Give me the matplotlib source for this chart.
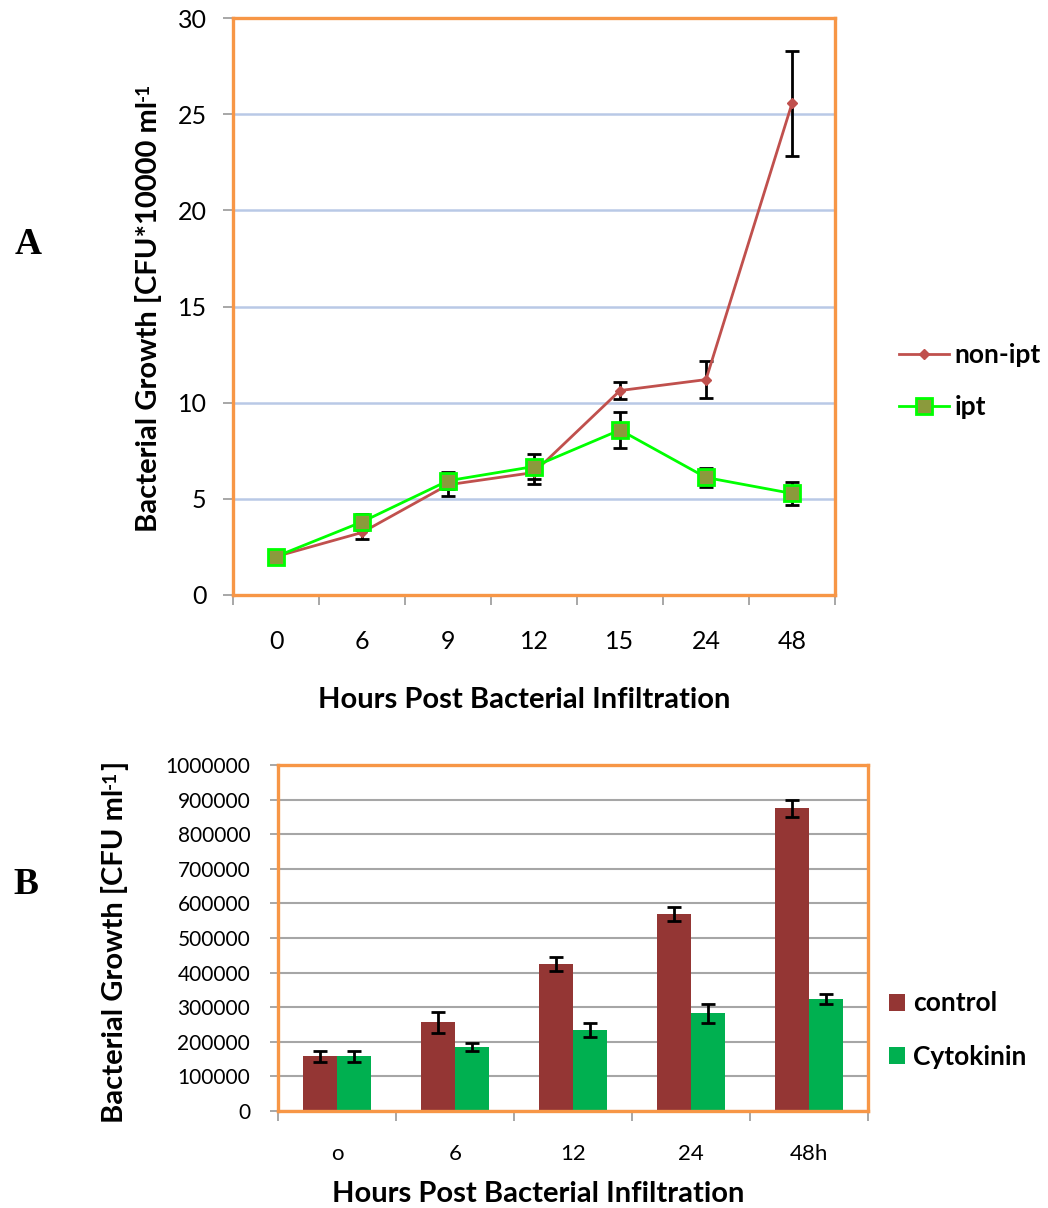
import matplotlib
matplotlib.use("Agg")
import matplotlib.pyplot as plt
import numpy as np
from matplotlib.ticker import FixedLocator, NullFormatter, StrMethodFormatter

plt.rcParams['font.family'] = ['Lato', 'DejaVu Sans']

# ---- Panel A: time course (CFU * 10000 / ml) ----
hours_a = ["0", "6", "9", "12", "15", "24", "48"]
non_ipt = [2.0, 3.25, 5.73, 6.37, 10.63, 11.2, 25.56]
non_ipt_err = [0.1, 0.33, 0.57, 0.6, 0.42, 0.95, 2.75]
ipt = [2.0, 3.8, 5.94, 6.68, 8.58, 6.11, 5.28]
ipt_err = [0.1, 0.4, 0.43, 0.65, 0.96, 0.48, 0.6]

# ---- Panel B: bar chart (CFU / ml) ----
hours_b = ["o", "6", "12", "24", "48h"]
control = [158500, 256000, 424000, 569000, 875000]
control_err = [16000, 30000, 20000, 21000, 24000]
cytokinin = [158500, 184500, 235000, 282000, 324500]
cytokinin_err = [16000, 12500, 20000, 27000, 14500]

ORANGE = '#f79646'
TICK_GRAY = '#a0a0a0'
LABEL_SIZE = 21
LEGEND_SIZE = 19

W, H = 1048, 1208
fig = plt.figure(figsize=(W / 100, H / 100), dpi=100)


def fx(px):
    return px / W


def fy(py):
    return 1 - py / H


def style_frame(ax):
    for s in ax.spines.values():
        s.set_color(ORANGE)
        s.set_linewidth(2.4)


def vertical_label(ax, x_px, start_px, main, sup, tail=None):
    """Rotated bold label with a superscript and an optional trailing part."""
    t = fig.text(fx(x_px), fy(start_px), main, rotation=90, ha='center', va='bottom',
                 fontsize=LABEL_SIZE, fontweight='bold')
    s = ax.annotate(sup, xy=(0.0, 1.0), xycoords=t, rotation=90, ha='left', va='bottom',
                    fontsize=LABEL_SIZE * 0.65, fontweight='bold', annotation_clip=False)
    if tail:
        ax.annotate(tail, xy=(0.0, 1.0), xycoords=(t, s), rotation=90, ha='left',
                    va='bottom', fontsize=LABEL_SIZE, fontweight='bold',
                    annotation_clip=False)


# ================= Panel A =================
ax1 = fig.add_axes([fx(233), fy(595), fx(835) - fx(233), fy(18) - fy(595)])
xa = np.arange(len(hours_a))
ax1.set_xlim(-0.5, len(hours_a) - 0.5)
ax1.set_ylim(0, 30)
ax1.set_yticks(np.arange(0, 31, 5))
ax1.yaxis.grid(True, color='#b9c9e6', linewidth=1.8)
ax1.set_axisbelow(True)
ax1.set_xticks(xa)
ax1.set_xticklabels(hours_a)
ax1.xaxis.set_minor_locator(FixedLocator(np.arange(-0.5, len(hours_a), 1.0)))
ax1.xaxis.set_minor_formatter(NullFormatter())
ax1.tick_params(axis='x', which='major', length=0, pad=25, labelsize=18)
ax1.tick_params(axis='x', which='minor', length=7, width=1.3, color=TICK_GRAY)
ax1.tick_params(axis='y', which='major', length=7, width=1.3, color=TICK_GRAY,
                labelsize=18, pad=12)
style_frame(ax1)

ax1.errorbar(xa, non_ipt, yerr=non_ipt_err, fmt='none', ecolor='black',
             elinewidth=2, capsize=5, capthick=2, zorder=3)
ax1.errorbar(xa, ipt, yerr=ipt_err, fmt='none', ecolor='black',
             elinewidth=2, capsize=5, capthick=2, zorder=3)
ax1.plot(xa, non_ipt, color='#c0504d', linewidth=2, marker='D', markersize=5,
         markerfacecolor='#c0504d', markeredgecolor='#c0504d', label='non-ipt', zorder=4)
ax1.plot(xa, ipt, color='#00ff00', linewidth=2, marker='s', markersize=11,
         markerfacecolor='#8b9a3c', markeredgecolor='#00ff00', markeredgewidth=2,
         label='ipt', zorder=5)

ax1.legend(loc='center left', bbox_to_anchor=(fx(886), fy(381)),
           bbox_transform=fig.transFigure, frameon=False, borderpad=0,
           handlelength=1.9, handletextpad=0.2, labelspacing=1.05,
           prop={'weight': 'bold', 'size': LEGEND_SIZE})

fig.text(fx(524), fy(700), 'Hours Post Bacterial Infiltration', ha='center', va='center',
         fontsize=LABEL_SIZE, fontweight='bold')
vertical_label(ax1, 148, 532, 'Bacterial Growth [CFU*10000 ml', '-1')
fig.text(fx(28), fy(245), 'A', ha='center', va='center', fontsize=27,
         fontweight='bold', family='Liberation Serif')

# ================= Panel B =================
ax2 = fig.add_axes([fx(278), fy(1111), fx(868) - fx(278), fy(765) - fy(1111)])
xb = np.arange(len(hours_b))
bw = 0.29
ax2.set_xlim(-0.5, len(hours_b) - 0.5)
ax2.set_ylim(0, 1000000)
ax2.set_yticks(np.arange(0, 1000001, 100000))
ax2.yaxis.set_major_formatter(StrMethodFormatter('{x:.0f}'))
ax2.yaxis.grid(True, color='#a6a6a6', linewidth=1.5)
ax2.set_axisbelow(True)
err_style = dict(ecolor='black', elinewidth=2, capsize=5, capthick=2)
ax2.bar(xb - bw / 2, control, width=bw, color='#943634', label='control',
        yerr=control_err, error_kw=err_style)
ax2.bar(xb + bw / 2, cytokinin, width=bw, color='#00b050', label='Cytokinin',
        yerr=cytokinin_err, error_kw=err_style)
ax2.set_xticks(xb)
ax2.set_xticklabels(hours_b)
ax2.xaxis.set_minor_locator(FixedLocator(np.arange(-0.5, len(hours_b), 1.0)))
ax2.xaxis.set_minor_formatter(NullFormatter())
ax2.tick_params(axis='x', which='major', length=0, pad=24, labelsize=16)
ax2.tick_params(axis='x', which='minor', length=7, width=1.3, color=TICK_GRAY)
ax2.tick_params(axis='y', which='major', length=6, width=1.3, color=TICK_GRAY,
                labelsize=15, pad=14)
style_frame(ax2)

ax2.legend(loc='center left', bbox_to_anchor=(fx(876), fy(1030)),
           bbox_transform=fig.transFigure, frameon=False, borderpad=0,
           handlelength=0.6, handleheight=0.6, handletextpad=0.3, labelspacing=1.1,
           prop={'weight': 'bold', 'size': LEGEND_SIZE})

fig.text(fx(538), fy(1194), 'Hours Post Bacterial Infiltration', ha='center', va='center',
         fontsize=LABEL_SIZE, fontweight='bold')
vertical_label(ax2, 115, 1123, 'Bacterial Growth [CFU ml', '-1', ']')
fig.text(fx(26), fy(885), 'B', ha='center', va='center', fontsize=27,
         fontweight='bold', family='Liberation Serif')

fig.savefig('out.png', dpi=100)
